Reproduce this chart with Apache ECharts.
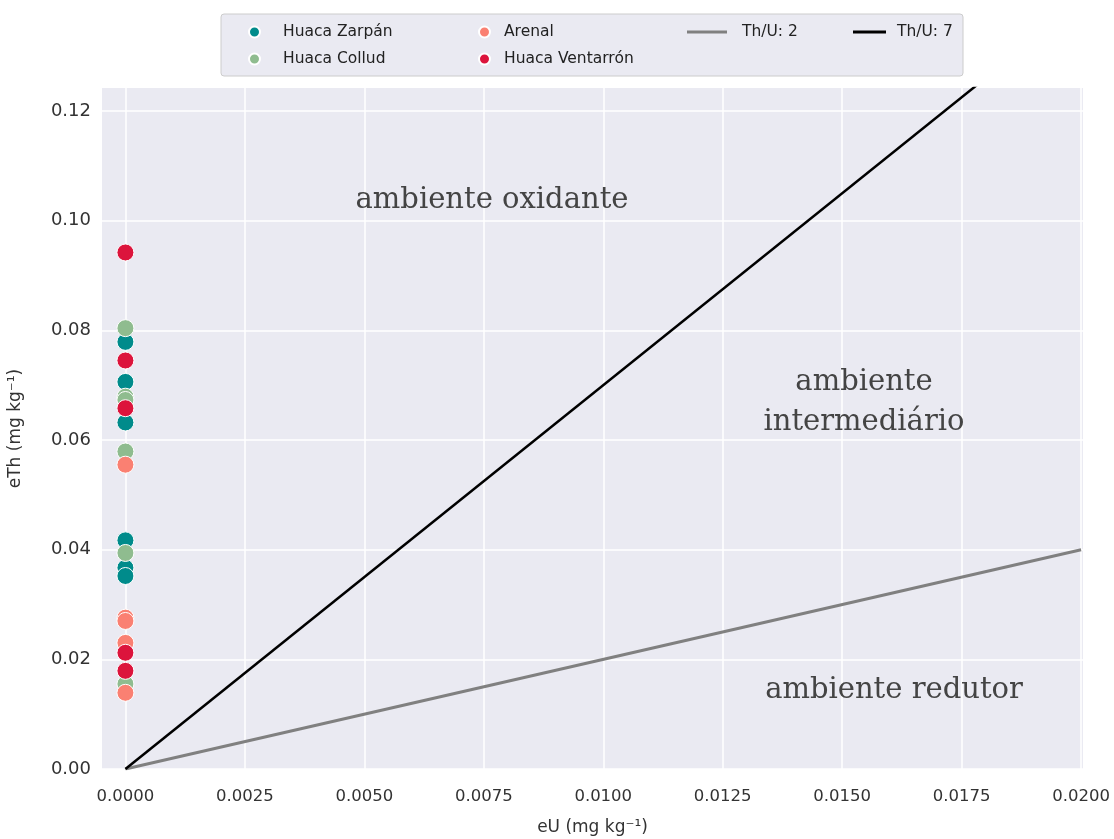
<!DOCTYPE html>
<html>
<head>
<meta charset="utf-8">
<script src="https://cdn.jsdelivr.net/npm/echarts@6/dist/echarts.min.js"></script>
<style>html,body{margin:0;padding:0;background:#fff;overflow:hidden;}#c{width:1114px;height:839px;}</style>
</head>
<body>
<div id="c"></div>
<script>
// ---- data ----
const zarpan = [0.0779, 0.0706, 0.0632, 0.0417, 0.0367, 0.0352];
const collud = [0.0804, 0.0679, 0.0673, 0.0579, 0.0394, 0.0155];
const arenal = [0.0555, 0.0276, 0.0270, 0.0230, 0.0139];
const ventarron = [0.0942, 0.0745, 0.0658, 0.0212, 0.0179];
const eUvalue = 0.0;
const ratioLow = 2;   // Th/U: 2
const ratioHigh = 7;  // Th/U: 7
const lineX = [0, 0.02];
const xTicks = [0, 0.0025, 0.005, 0.0075, 0.01, 0.0125, 0.015, 0.0175, 0.02];
const yTicks = [0, 0.02, 0.04, 0.06, 0.08, 0.10, 0.12];

const pts = arr => arr.map(v => [eUvalue, v]);
const xMin = -0.00049, xMax = 0.02004, yMin = 0, yMax = 0.1242;

const chart = echarts.init(document.getElementById('c'), null, { width: 1114, height: 839 });
const scatterStyle = (name, arr, color) => ({
  name, type: 'scatter', data: pts(arr),
  symbolSize: 17, itemStyle: { color, borderColor: '#fff', borderWidth: 1, opacity: 1 }, z: 5
});
const legendText = { fontFamily: 'DejaVu Sans', fontSize: 15.5, color: '#222', lineHeight: 20 };

chart.setOption({
  animation: false,
  backgroundColor: '#fff',
  grid: { left: 102, width: 981, top: 88, height: 681, outerBoundsMode: 'none', containLabel: false,
    show: true, backgroundColor: '#eaeaf2', borderWidth: 0 },
  xAxis: {
    type: 'value', min: xMin, max: xMax,
    name: 'eU (mg kg⁻¹)', nameLocation: 'middle', nameGap: 50,
    nameTextStyle: { fontFamily: 'DejaVu Sans', fontSize: 17, color: '#333' },
    axisLine: { show: false }, axisTick: { show: false, customValues: xTicks },
    axisLabel: { customValues: xTicks, margin: 19, fontFamily: 'DejaVu Sans', fontSize: 16.5, color: '#333',
      formatter: v => v.toFixed(4) },
    splitLine: { show: true, lineStyle: { color: '#fff', width: 1.5 } }
  },
  yAxis: {
    type: 'value', min: yMin, max: yMax,
    name: 'eTh (mg kg⁻¹)', nameLocation: 'middle', nameGap: 78,
    nameTextStyle: { fontFamily: 'DejaVu Sans', fontSize: 17, color: '#333' },
    axisLine: { show: false }, axisTick: { show: false, customValues: yTicks },
    axisLabel: { customValues: yTicks, margin: 11, fontFamily: 'DejaVu Sans', fontSize: 18, color: '#333',
      formatter: v => v.toFixed(2) },
    splitLine: { show: true, lineStyle: { color: '#fff', width: 1.5 } }
  },
  legend: [
    { data: ['Huaca Zarpán', 'Huaca Collud'], orient: 'vertical', left: 243, top: 17, itemWidth: 11, itemHeight: 11, itemGap: 7,
      icon: 'circle', textStyle: Object.assign({ padding: [0, 0, 0, 18] }, legendText) },
    { data: ['Arenal', 'Huaca Ventarrón'], orient: 'vertical', left: 473, top: 17, itemWidth: 11, itemHeight: 11, itemGap: 7,
      icon: 'circle', textStyle: Object.assign({ padding: [0, 0, 0, 9] }, legendText) },
    { data: ['Th/U: 2'], left: 682, top: 17, itemWidth: 40, itemHeight: 3, icon: 'rect', textStyle: Object.assign({ padding: [0, 0, 0, 10] }, legendText) },
    { data: ['Th/U: 7'], left: 848, top: 17, itemWidth: 33, itemHeight: 3, icon: 'rect', textStyle: Object.assign({ padding: [0, 0, 0, 6] }, legendText) }
  ],
  graphic: [
    { type: 'rect', z: 0, shape: { x: 221, y: 14, width: 742, height: 62, r: 3 },
      style: { fill: '#eaeaf2', stroke: '#cccccc', lineWidth: 1 } },
    { type: 'text', z: 10, style: { text: 'ambiente oxidante', x: 492, y: 200, textAlign: 'center', textVerticalAlign: 'middle',
      font: '29px "DejaVu Serif"', fill: '#444' } },
    { type: 'text', z: 10, style: { text: 'ambiente', x: 864, y: 382, textAlign: 'center', textVerticalAlign: 'middle',
      font: '29px "DejaVu Serif"', fill: '#444' } },
    { type: 'text', z: 10, style: { text: 'intermediário', x: 864, y: 422, textAlign: 'center', textVerticalAlign: 'middle',
      font: '29px "DejaVu Serif"', fill: '#444' } },
    { type: 'text', z: 10, style: { text: 'ambiente redutor', x: 894, y: 690, textAlign: 'center', textVerticalAlign: 'middle',
      font: '29px "DejaVu Serif"', fill: '#444' } }
  ],
  series: [
    { name: 'Th/U: 2', type: 'line', data: lineX.map(x => [x, ratioLow * x]), showSymbol: false, symbol: 'none',
      lineStyle: { color: '#808080', width: 3 }, itemStyle: { color: '#808080' }, z: 3 },
    { name: 'Th/U: 7', type: 'line', data: lineX.map(x => [x, ratioHigh * x]), showSymbol: false, symbol: 'none',
      lineStyle: { color: '#000', width: 2.5 }, itemStyle: { color: '#000' }, z: 3 },
    scatterStyle('Huaca Zarpán', zarpan, '#008b8b'),
    scatterStyle('Huaca Collud', collud, '#8fbc8f'),
    scatterStyle('Arenal', arenal, '#fa8072'),
    scatterStyle('Huaca Ventarrón', ventarron, '#dc143c')
  ]
});
</script>
</body>
</html>
